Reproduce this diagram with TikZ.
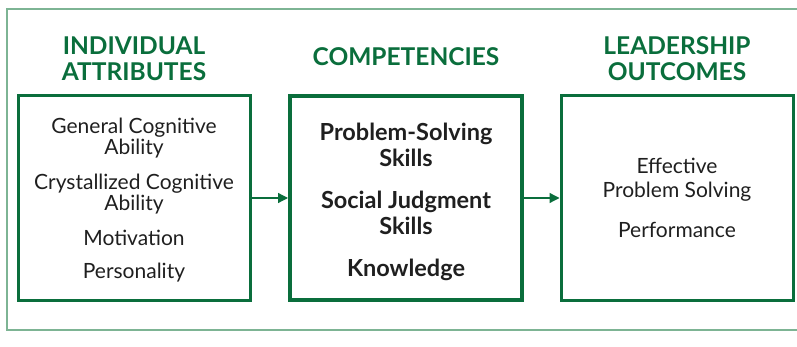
\documentclass[tikz,border=0pt]{standalone}
\usepackage{fontspec}
\setmainfont{Lato}
\usetikzlibrary{arrows.meta,positioning}
\definecolor{leafgreen}{RGB}{10,110,60}
\definecolor{palegreen}{RGB}{125,180,148}

\begin{document}
\begin{tikzpicture}[x=1pt,y=-1pt,>={Triangle[length=10pt,width=10pt]},font=\fontsize{21}{21}\selectfont]
  \tikzset{box/.style={draw=leafgreen,line width=3pt,minimum width=232pt,minimum height=204pt,align=center,text=black!88},
    head/.style={text=leafgreen,font=\fontsize{24.5}{26}\selectfont\bfseries,align=center},
    flow/.style={->,draw=leafgreen,fill=leafgreen,line width=1.3pt}}
  \useasboundingbox (0,0) rectangle (797,347);
  \draw[palegreen,line width=1.8pt] (800,9) -- (7,9) -- (7,330) -- (800,330);
  \node[head] (hind) at (134,59) {INDIVIDUAL\\ATTRIBUTES};
  \node[head] (hcomp) at (406,57) {COMPETENCIES};
  \node[head] (hlead) at (677,59) {LEADERSHIP\\OUTCOMES};
  \node[box] (ind) at (134,198) {\rule{0pt}{19pt}General Cognitive\\Ability\\[14pt]Crystallized Cognitive\\Ability\\[14pt]Motivation\\[12pt]Personality};
  \node[box,line width=4pt,font=\fontsize{23.5}{26}\selectfont\bfseries] (comp) at (406,198) {\rule{0pt}{25pt}Problem-Solving\\Skills\\[16pt]Social Judgment\\Skills\\[16pt]Knowledge};
  \node[box,font=\fontsize{21}{24}\selectfont] (lead) at (677,198) {Effective\\Problem Solving\\[16pt]Performance};
  \draw[flow] (ind) -- (comp);
  \draw[flow] (comp) -- (lead);
\end{tikzpicture}
\end{document}
